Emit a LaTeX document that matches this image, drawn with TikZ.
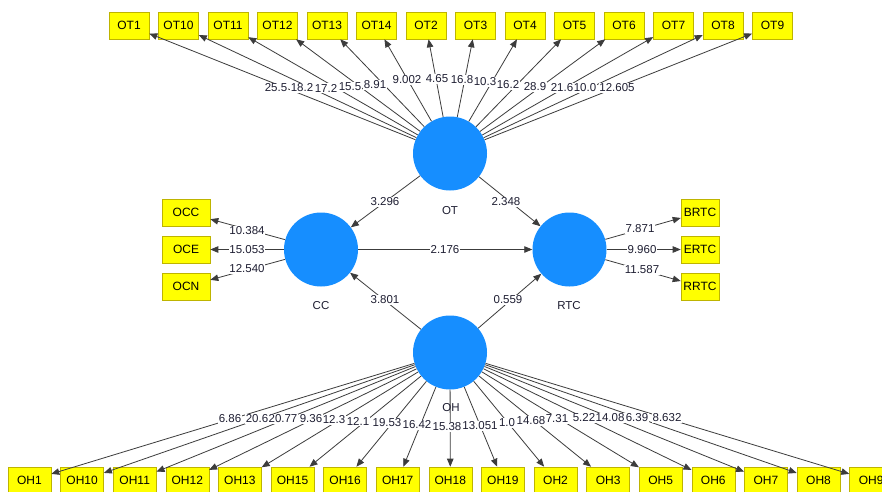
\documentclass[tikz,border=0pt]{standalone}
\usepackage{fontspec}
\setmainfont{Liberation Sans}
\usetikzlibrary{arrows.meta}
\definecolor{boxyellow}{RGB}{255,255,0}
\definecolor{boxedge}{RGB}{190,180,0}
\definecolor{lvblue}{RGB}{22,142,255}
\definecolor{linegray}{RGB}{60,60,60}
\definecolor{numcol}{RGB}{30,30,50}
\begin{document}
\begin{tikzpicture}[x=1pt,y=-1pt,
  ind/.style={draw=boxedge, fill=boxyellow, line width=0.6pt, minimum width=40pt, minimum height=27pt, inner sep=0pt, font=\fontsize{12}{14}\selectfont},
  lv/.style={circle, fill=lvblue, minimum size=74pt, inner sep=0pt},
  conn/.style={draw=linegray, line width=0.8pt, -{Triangle[length=8pt,width=6.5pt]}},
  num/.style={fill=white, inner sep=0.5pt, font=\fontsize{11.5}{13}\selectfont, text=numcol},
  lvname/.style={font=\fontsize{11.5}{13}\selectfont, text=numcol}]
\useasboundingbox (0,0) rectangle (882,491);
\fill[white] (0,0) rectangle (882,491);
% latent variables
\node[lv] (OT) at (450,153.5) {};
\node[lv] (CC) at (321,249.5) {};
\node[lv] (RTC) at (569.5,249.5) {};
\node[lv] (OH) at (450,352.5) {};
% indicators OT
\foreach \n [count=\i from 0] in {1,10,11,12,13,14,2,3,4,5,6,7,8,9}
  \node[ind] (OT\n) at ({129+49.5*\i},25.5) {OT\n};
% indicators OH
\foreach \n [count=\i from 0] in {1,10,11,12,13,15,16,17,18,19,2,3,5,6,7,8,9}
  \node[ind, minimum width=43pt] (OH\n) at ({29.5+52.6*\i},480.5) {OH\n};
% indicators CC, RTC
\node[ind, minimum width=48pt] (OCC) at (186,212.5) {OCC};
\node[ind, minimum width=48pt] (OCE) at (186,249.5) {OCE};
\node[ind, minimum width=48pt] (OCN) at (186,286.5) {OCN};
\node[ind, minimum width=38pt] (BRTC) at (700,212.5) {BRTC};
\node[ind, minimum width=38pt] (ERTC) at (700,249.5) {ERTC};
\node[ind, minimum width=38pt] (RRTC) at (700,286.5) {RRTC};
% connectors
\foreach \n in {1,10,11,12,13,14,2,3,4,5,6,7,8,9}
  \draw[conn] (OT) -- (OT\n);
\foreach \n in {1,10,11,12,13,15,16,17,18,19,2,3,5,6,7,8,9}
  \draw[conn] (OH) -- (OH\n);
\foreach \n in {OCC,OCE,OCN}
  \draw[conn] (CC) -- (\n);
\foreach \n in {BRTC,ERTC,RRTC}
  \draw[conn] (RTC) -- (\n);
\draw[conn] (OT) -- (CC);
\draw[conn] (OT) -- (RTC);
\draw[conn] (OH) -- (CC);
\draw[conn] (OH) -- (RTC);
\draw[conn] (CC) -- (RTC);
% top labels
\foreach \t/\x/\y [count=\i] in {25.5/276/88,18.2/302/88,17.2/326/88,15.5/350/87,8.91/375/85,9.002/407/80,4.65/437/79,16.8/462/80,10.3/485/82,16.2/508/85,28.9/535/87,21.6/562/88,10.0/585/88,12.605/617/88}
  \node[num] (tl\i) at (\x,\y) {\t};
% bottom labels
\foreach \t/\x/\y [count=\i] in {6.86/230/419,20.6/257/419,20.77/283/419,9.36/311/419,12.3/334/420,12.1/358/421,19.53/387/423,16.42/417/425,15.38/447/427,13.051/480/426,1.0/507/423,14.68/531/421,7.31/557/419,5.22/584/418,14.08/610/418,6.39/637/418,8.632/667/418}
  \node[num] (bl\i) at (\x,\y) {\t};
% middle labels
\node[num] (m1) at (247,231) {10.384};
\node[num] (m2) at (247,249.5) {15.053};
\node[num] (m3) at (247,269) {12.540};
\node[num] (m4) at (385,202) {3.296};
\node[num] (m5) at (385,300) {3.801};
\node[num] (m6) at (445,249.5) {2.176};
\node[num] (m7) at (506,202) {2.348};
\node[num] (m8) at (508,300) {0.559};
\node[num] (m9) at (640,229) {7.871};
\node[num] (m10) at (642,249.5) {9.960};
\node[num] (m11) at (642,270) {11.587};
% latent names
\node[lvname] (nOT) at (450,211) {OT};
\node[lvname] (nCC) at (321,306) {CC};
\node[lvname] (nRTC) at (569,306) {RTC};
\node[lvname] (nOH) at (451,408) {OH};
\end{tikzpicture}
\end{document}
